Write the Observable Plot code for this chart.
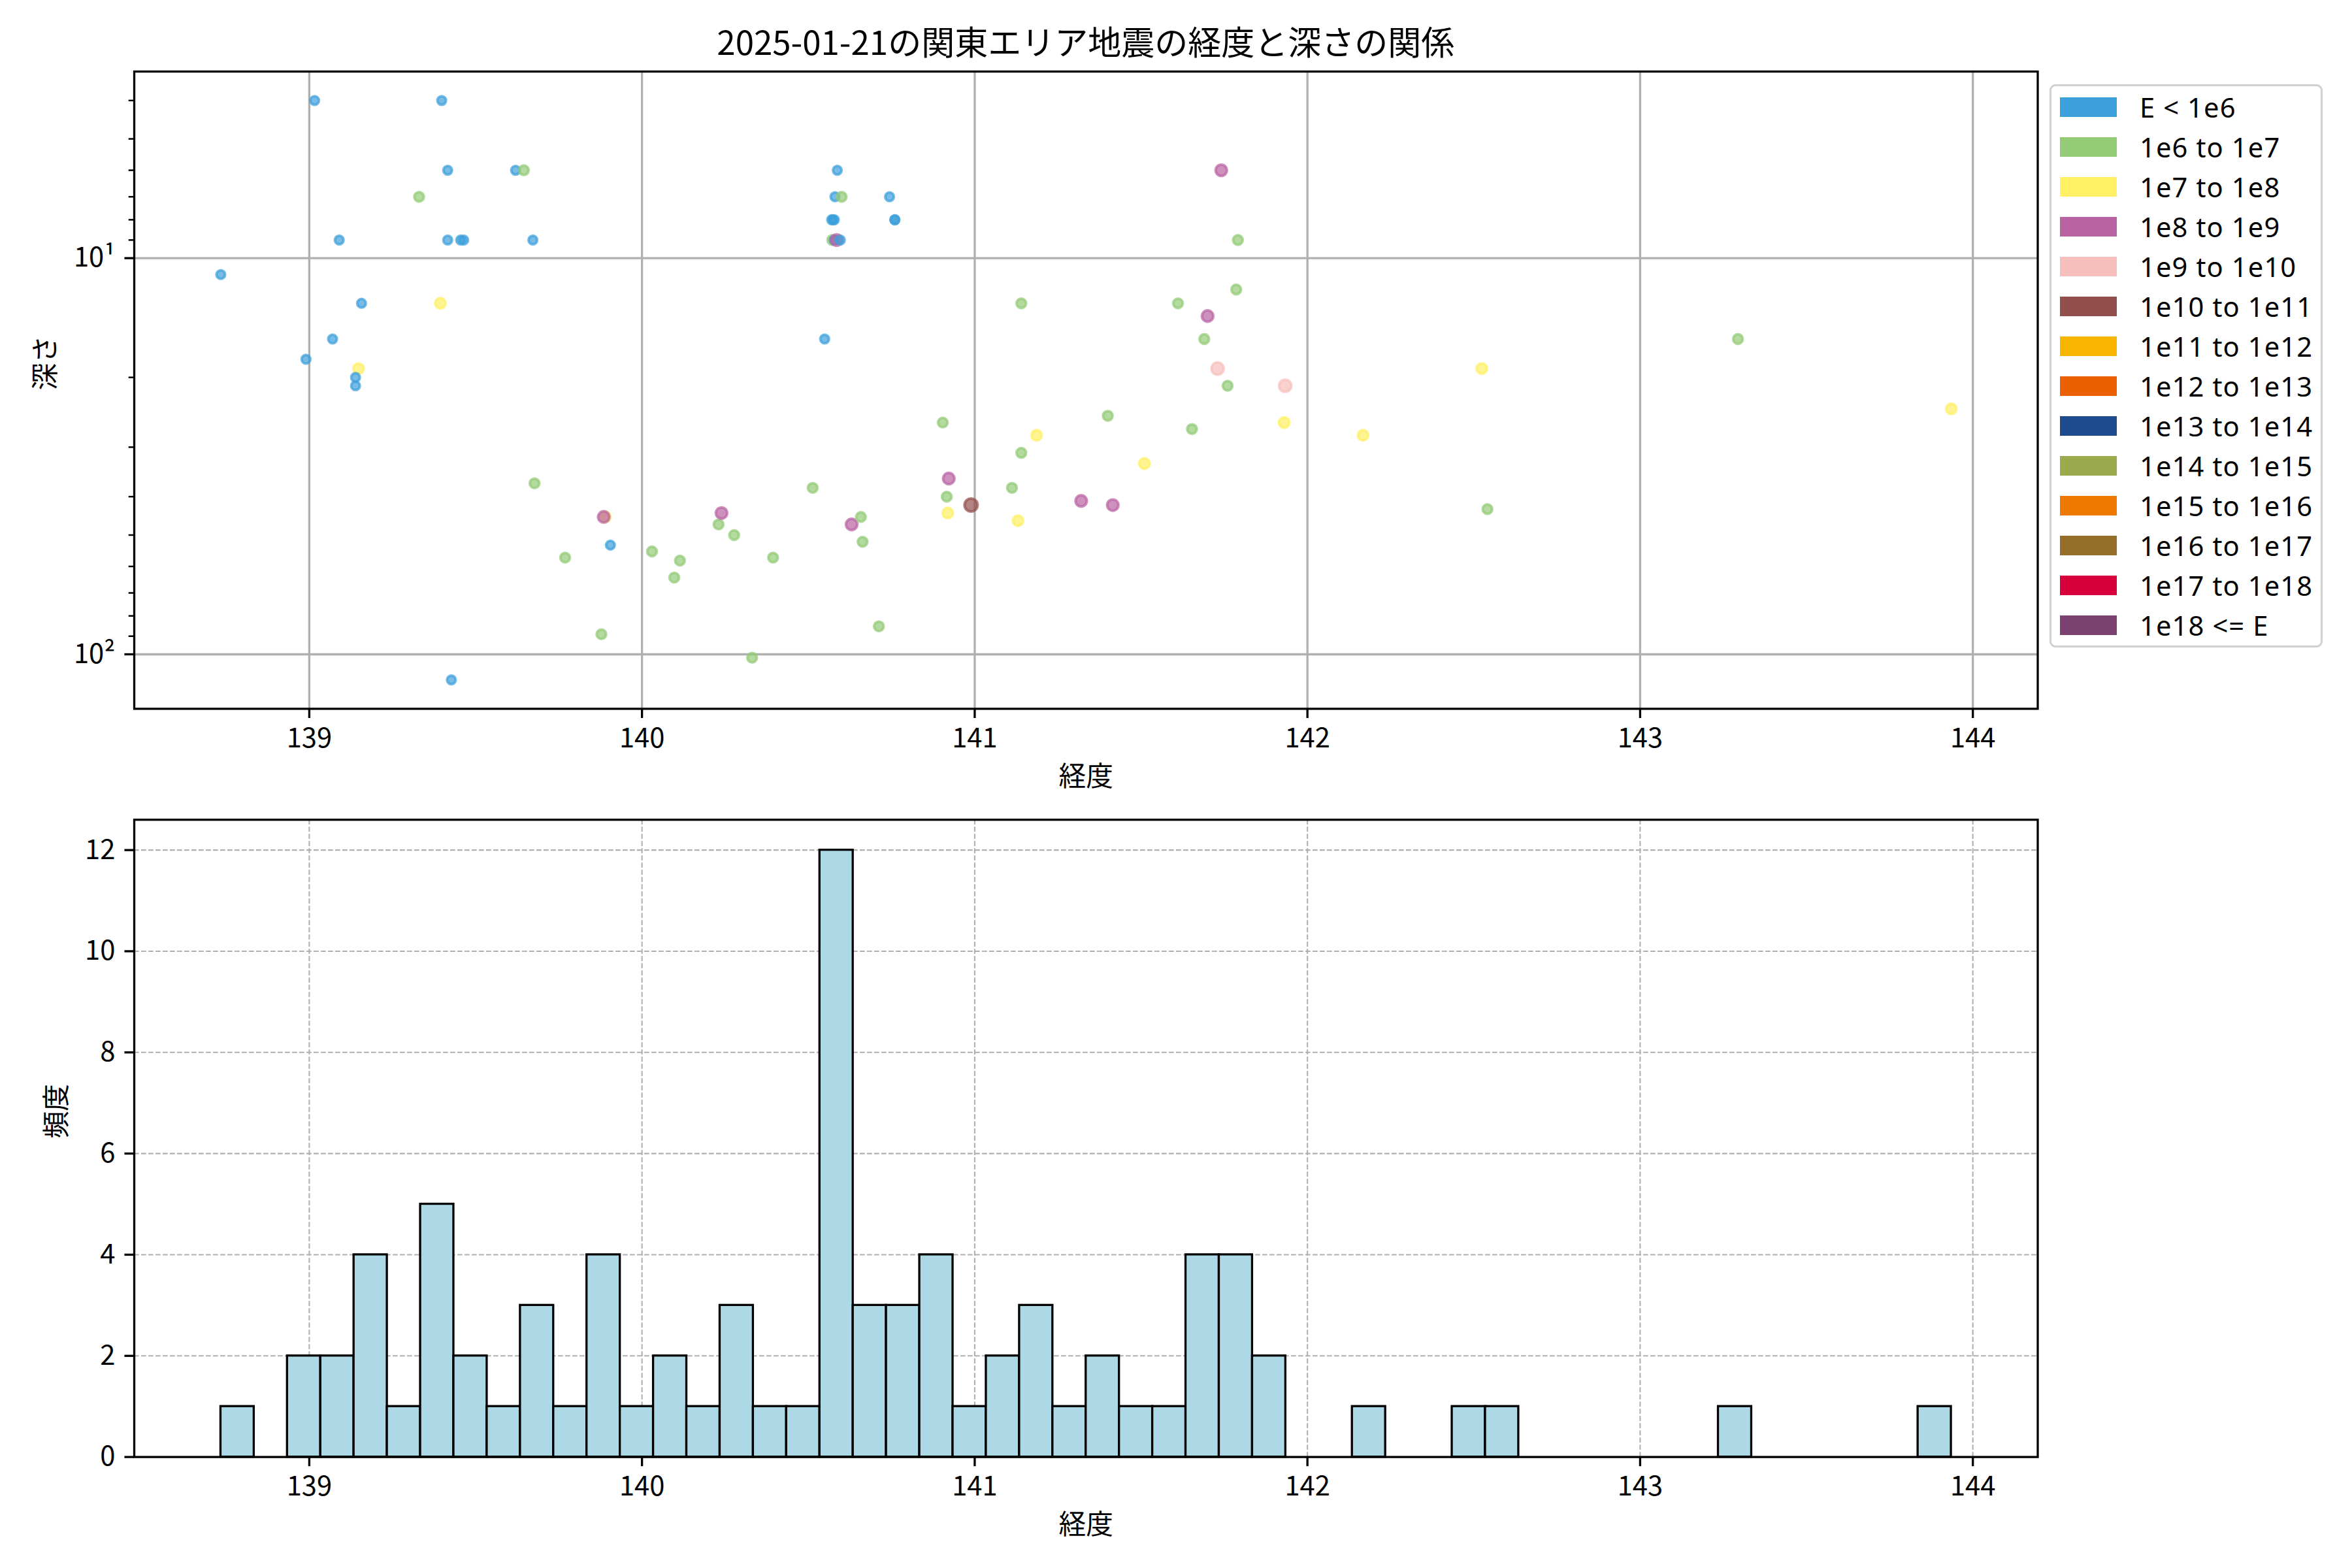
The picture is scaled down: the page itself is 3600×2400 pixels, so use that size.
<!DOCTYPE html>
<html><head><meta charset="utf-8">
<script src="https://cdn.jsdelivr.net/npm/d3@7"></script>
<script src="https://cdn.jsdelivr.net/npm/@observablehq/plot@0.6"></script>
<style>
html,body{margin:0;padding:0;background:#fff;}
#fig{position:relative;width:3600px;height:2400px;background:#fff;font-family:"Noto Sans CJK JP","Noto Sans",sans-serif;color:#000;overflow:hidden;}
#fig svg{position:absolute;left:0;overflow:visible;max-width:none;}
.ttl{position:absolute;left:205px;width:2913.5px;text-align:center;font-size:51px;line-height:51px;white-space:nowrap;}
#legend{position:absolute;left:3137px;top:129px;width:418px;height:862px;border:3px solid #d0d0d0;border-radius:9px;background:#fff;box-sizing:border-box;}
.sw{position:absolute;width:87px;height:30px;}
.lt{position:absolute;font-family:"Noto Sans","Noto Sans CJK JP",sans-serif;font-size:41.7px;line-height:41.7px;letter-spacing:1.1px;white-space:nowrap;}
</style></head><body><div id="fig"></div><script>
(function(){
// ---- text ----
const title = "2025-01-21の関東エリア地震の経度と深さの関係";
const xLabel = "経度";
const depthLabel = "深さ";
const freqLabel = "頻度";

// ---- energy classes (legend) ----
const classLabels = ["E < 1e6","1e6 to 1e7","1e7 to 1e8","1e8 to 1e9","1e9 to 1e10","1e10 to 1e11","1e11 to 1e12","1e12 to 1e13","1e13 to 1e14","1e14 to 1e15","1e15 to 1e16","1e16 to 1e17","1e17 to 1e18","1e18 <= E"];
const classColors = ["#3ca0dc","#93cb76","#fff064","#b963a3","#f6bfbb","#934f4b","#f8b500","#eb6101","#1e4a8e","#9caa4e","#ee7800","#956f29","#d7003a","#7a4171"];

// ---- earthquakes: longitude, depth (km), energy class index ----
const longitude = [139.016,139.398,139.416,139.620,139.645,139.330,139.090,139.416,139.455,139.464,
  139.672,138.734,139.157,139.394,139.070,138.990,139.148,139.139,139.139,139.677,
  139.890,139.885,139.905,139.769,139.878,140.331,139.427,140.030,140.114,140.097,
  140.230,140.239,140.277,140.394,140.587,140.580,140.600,140.744,140.570,140.574,
  140.578,140.760,140.760,140.572,140.578,140.585,140.596,140.549,140.630,141.741,
  141.791,141.786,141.140,141.611,141.700,141.690,141.730,141.760,141.933,140.904,
  141.400,141.653,141.930,142.167,141.186,141.140,141.510,140.513,140.922,141.112,
  140.916,140.989,141.320,141.415,140.919,141.130,140.658,140.663,140.712,142.524,
  142.541,143.294,143.935];
const depth = [4,4,6,6,6,7,9,9,9,9,
  9,11,13,13,16,18,19,20,21,37,
  45,45,53,57,89,102,116,55,58,64,
  47,44,50,57,6,7,7,7,8,8,
  8,8,8,9,9,9,9,16,47,6,
  9,12,13,13,14,16,19,21,21,26,
  25,27,26,28,28,31,33,38,36,38,
  40,42,41,42,44,46,45,52,85,19,
  43,16,24];
const energyClass = [0,0,0,0,1,1,0,0,0,0,
  0,0,0,2,0,0,2,0,0,1,
  2,3,0,1,1,1,0,1,1,1,
  1,3,1,1,0,0,1,0,0,0,
  0,0,0,1,0,3,0,0,3,3,
  1,1,1,1,3,1,4,1,4,1,
  1,1,2,2,2,1,2,1,3,1,
  1,5,3,3,2,2,1,1,1,2,
  1,1,2];

// ---- histogram of longitude: 52 equal bins from min to max longitude ----
const histCounts = [1,0,2,2,4,1,5,2,1,3,
  1,4,1,2,1,3,1,1,12,3,
  3,4,1,2,3,1,2,1,1,4,
  4,2,0,0,1,0,0,1,1,0,
  0,0,0,0,0,1,0,0,0,0,
  0,1];

// ---- derived tables ----
const pts = longitude.map((lon, i) => ({lon, depth: depth[i], k: energyClass[i], cls: classLabels[energyClass[i]]}));
const lonMin = d3.min(longitude), lonMax = d3.max(longitude);
const lonPad = 0.05 * (lonMax - lonMin);
const xDomain = [lonMin - lonPad, lonMax + lonPad];
const xTicks = d3.range(Math.ceil(xDomain[0]), Math.floor(xDomain[1]) + 1);
const lMin = Math.log10(d3.min(depth)), lMax = Math.log10(d3.max(depth));
const lPad = 0.05 * (lMax - lMin);
const yDomain = [Math.pow(10, lMin - lPad), Math.pow(10, lMax + lPad)];
const majorY = [10, 100];
const minorY = [4,5,6,7,8,9,20,30,40,50,60,70,80,90].filter(v => v >= yDomain[0] && v <= yDomain[1]);
const binW = (lonMax - lonMin) / histCounts.length;
const bins = histCounts.map((c, i) => ({x1: lonMin + i * binW, x2: lonMin + (i + 1) * binW, count: c})).filter(b => b.count > 0);
const countMax = d3.max(histCounts);
const countTicks = d3.range(0, countMax + 1, 2);

const FS = 41.7, TL = 14.6, LW = 3.3;
const fontFamily = '"Noto Sans CJK JP","Noto Sans",sans-serif';
const fig = document.getElementById("fig");

// ---- title ----
const t = document.createElement("div");
t.className = "ttl"; t.style.top = "37px"; t.textContent = title;
fig.appendChild(t);

// ---- top: scatter of longitude vs depth ----
const scatterPlot = Plot.plot({
  width: 3130, height: 1230,
  marginLeft: 205, marginRight: 11.5, marginTop: 109, marginBottom: 145.6,
  style: {background: "transparent", fontFamily, fontSize: FS + "px", overflow: "visible"},
  x: {domain: xDomain},
  y: {type: "log", domain: yDomain, reverse: true},
  color: {domain: classLabels, range: classColors},
  r: {type: "linear", domain: [0, 5], range: [6.6, 10]},
  marks: [
    Plot.gridX(xTicks, {stroke: "#b0b0b0", strokeOpacity: 1, strokeWidth: LW}),
    Plot.gridY(majorY, {stroke: "#b0b0b0", strokeOpacity: 1, strokeWidth: LW}),
    Plot.dot(pts, {x: "lon", y: "depth", r: "k", fill: "cls", stroke: "cls", fillOpacity: 0.7, strokeOpacity: 0.7, strokeWidth: 4, sort: null}),
    Plot.frame({stroke: "black", strokeWidth: LW}),
    Plot.axisX(xTicks, {tickSize: TL, tickPadding: TL, strokeWidth: LW, fontSize: FS, tickFormat: d => String(d), label: null}),
    Plot.axisY(majorY, {tickSize: TL, tickPadding: TL, strokeWidth: LW, fontSize: FS, tickFormat: d => d === 10 ? "10¹" : "10²", label: null}),
    Plot.axisY(minorY, {tickSize: 8.3, strokeWidth: 2.5, tickFormat: () => "", label: null}),
    Plot.text([xLabel], {text: d => d, frameAnchor: "bottom", dy: 118, fontSize: FS}),
    Plot.text([depthLabel], {text: d => d, frameAnchor: "left", dx: -135, rotate: -90, fontSize: FS})
  ]
});
scatterPlot.style.top = "0px";
fig.appendChild(scatterPlot);

// ---- bottom: histogram of longitude ----
const histPlot = Plot.plot({
  width: 3130, height: 1250,
  marginLeft: 205, marginRight: 11.5, marginTop: 104.2, marginBottom: 170.4,
  style: {background: "transparent", fontFamily, fontSize: FS + "px", overflow: "visible"},
  x: {domain: xDomain},
  y: {domain: [0, countMax * 1.05]},
  marks: [
    Plot.gridX(xTicks, {stroke: "#b0b0b0", strokeOpacity: 1, strokeWidth: 2.1, strokeDasharray: "7.7,3.3"}),
    Plot.gridY(countTicks, {stroke: "#b0b0b0", strokeOpacity: 1, strokeWidth: 2.1, strokeDasharray: "7.7,3.3"}),
    Plot.rect(bins, {x1: "x1", x2: "x2", y1: () => 0, y2: "count", fill: "#add8e6", stroke: "black", strokeWidth: LW}),
    Plot.frame({stroke: "black", strokeWidth: LW}),
    Plot.axisX(xTicks, {tickSize: TL, tickPadding: TL, strokeWidth: LW, fontSize: FS, tickFormat: d => String(d), label: null}),
    Plot.axisY(countTicks, {tickSize: TL, tickPadding: TL, strokeWidth: LW, fontSize: FS, tickFormat: d => String(d), label: null}),
    Plot.text([xLabel], {text: d => d, frameAnchor: "bottom", dy: 118, fontSize: FS}),
    Plot.text([freqLabel], {text: d => d, frameAnchor: "left", dx: -118.3, rotate: -90, fontSize: FS})
  ]
});
histPlot.style.top = "1150px";
fig.appendChild(histPlot);

// ---- legend ----
const lg = document.createElement("div");
lg.id = "legend";
fig.appendChild(lg);
classLabels.forEach((lab, i) => {
  const cy = 163.5 + i * 61 - 129 - 3;
  const sw = document.createElement("div");
  sw.className = "sw";
  sw.style.left = (3152.7 - 3137 - 3) + "px";
  sw.style.top = (cy - 15) + "px";
  sw.style.background = classColors[i];
  lg.appendChild(sw);
  const tx = document.createElement("div");
  tx.className = "lt";
  tx.style.left = (3275 - 3137 - 3) + "px";
  tx.style.top = (cy - 20.85) + "px";
  tx.textContent = lab;
  lg.appendChild(tx);
});
})();
</script></body></html>
